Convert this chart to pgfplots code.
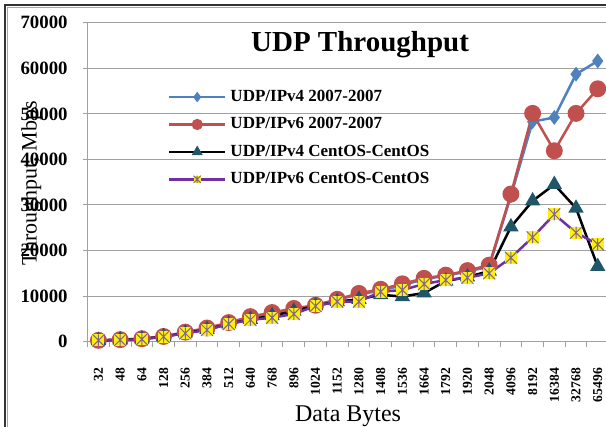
\documentclass[border=0pt]{standalone}
\usepackage{fontspec}
\setmainfont{Liberation Serif}
\usepackage{pgfplots}
\pgfplotsset{compat=1.18}

\definecolor{xlblue}{RGB}{79,129,189}
\definecolor{xlred}{RGB}{192,80,77}
\definecolor{xlteal}{RGB}{31,86,104}
\definecolor{xlpurple}{RGB}{112,48,160}
\definecolor{astgray}{RGB}{128,100,150}
\definecolor{gridgray}{RGB}{160,160,160}

% yellow square with an asterisk on top (Excel style)
\pgfdeclareplotmark{sqast}{%
  \pgfpathrectangle{\pgfqpoint{-\pgfplotmarksize}{-\pgfplotmarksize}}{\pgfqpoint{2\pgfplotmarksize}{2\pgfplotmarksize}}%
  \pgfusepathqfill
  \pgfpathmoveto{\pgfqpoint{-\pgfplotmarksize}{-\pgfplotmarksize}}\pgfpathlineto{\pgfqpoint{\pgfplotmarksize}{\pgfplotmarksize}}%
  \pgfpathmoveto{\pgfqpoint{-\pgfplotmarksize}{\pgfplotmarksize}}\pgfpathlineto{\pgfqpoint{\pgfplotmarksize}{-\pgfplotmarksize}}%
  \pgfpathmoveto{\pgfqpoint{0pt}{-\pgfplotmarksize}}\pgfpathlineto{\pgfqpoint{0pt}{\pgfplotmarksize}}%
  \pgfusepathqstroke
}

\begin{document}
\begin{tikzpicture}
\useasboundingbox (0,0) rectangle (303pt,213.5pt);
\clip (0,0) rectangle (303pt,213.5pt);
% outer frame
\draw[black!80, line width=1pt] (2.5pt,-1pt) -- (2.5pt,211pt) -- (310pt,211pt);
\draw[black!35, line width=0.6pt] (3.9pt,-1pt) -- (3.9pt,209.6pt) -- (310pt,209.6pt);
\begin{axis}[
    at={(43.8pt,42.65pt)}, anchor=south west,
    scale only axis, width=260.5pt, height=159.5pt,
    xmin=-0.5, xmax=23.5, ymin=0, ymax=70000,
    axis x line*=bottom, axis y line*=left,
    axis line style={draw=gridgray, line width=0.5pt},
    ymajorgrids, grid style={draw=gridgray, line width=0.5pt},
    ytick distance=10000,
    scaled y ticks=false,
    /pgf/number format/1000 sep={},
    /pgf/number format/assume math mode=true,
    xtick={0,...,23},
    xticklabels={32,48,64,128,256,384,512,640,768,896,1024,1152,1280,1408,1536,1664,1792,1920,2048,4096,8192,16384,32768,65496},
    minor xtick={-0.5,0.5,...,23.5},
    tick align=outside,
    major tick length=2.5pt, minor tick length=2.5pt,
    major x tick style={draw=none},
    tick style={draw=gridgray, line width=0.5pt},
    yticklabel style={font=\bfseries\fontsize{9.4}{10}\selectfont, inner sep=0pt},
    yticklabel shift=7.3pt,
    xticklabel style={font=\bfseries\fontsize{6.8}{8}\selectfont, rotate=90, anchor=east, inner sep=0pt},
    xticklabel shift=10.5pt,
    title={UDP Throughput},
    title style={at={(axis description cs:0.523,0.943)}, anchor=center, yshift=-8pt,
      font=\bfseries\fontsize{14.5}{16}\selectfont},
    xlabel={Data Bytes},
    xlabel style={at={(axis description cs:0.5,-0.235)}, anchor=center, font=\fontsize{12}{14}\selectfont},
    ylabel={Throughput, Mbps},
    ylabel style={at={(axis description cs:-0.108,0.496)}, anchor=center, font=\fontsize{11}{13}\selectfont},
    legend cell align=left,
    legend style={at={(axis description cs:0.142,0.638)}, anchor=west, draw=none, fill=none,
      font=\bfseries\fontsize{8.5}{10}\selectfont, row sep=0pt,
      nodes={text height=6pt, text depth=1.5pt, inner ysep=3.1pt}},
    legend image code/.code={%
      \draw[mark repeat=2, mark phase=2, every mark/.append style={scale=0.6}]
        plot coordinates {(0pt,0pt) (14pt,0pt) (28pt,0pt)};},
]
\addplot[xlblue, line width=1.25pt, mark=diamond*, mark size=2.7pt,
  mark options={solid, fill=xlblue, draw=xlblue}] coordinates {
  (0,300) (1,450) (2,650) (3,1150) (4,2000) (5,2900) (6,4100) (7,5400)
  (8,6200) (9,7100) (10,8000) (11,9200) (12,10400) (13,11200) (14,12400)
  (15,13700) (16,14500) (17,15400) (18,16500) (19,32000) (20,48300)
  (21,49200) (22,58700) (23,61600)};
\addplot[xlred, line width=1.25pt, mark=*, mark size=3.6pt,
  mark options={solid, fill=xlred, draw=xlred}] coordinates {
  (0,300) (1,450) (2,650) (3,1150) (4,2100) (5,3000) (6,4200) (7,5500)
  (8,6400) (9,7300) (10,8000) (11,9300) (12,10600) (13,11500) (14,12700)
  (15,13900) (16,14600) (17,15600) (18,16800) (19,32400) (20,50100)
  (21,41900) (22,50100) (23,55500)};
\addplot[black, line width=1.25pt, mark=triangle*, mark size=3.2pt,
  mark options={solid, fill=xlteal, draw=xlteal}] coordinates {
  (0,250) (1,400) (2,600) (3,1100) (4,1900) (5,2700) (6,3900) (7,4900)
  (8,5700) (9,6700) (10,7900) (11,8800) (12,9300) (13,10300) (14,9900)
  (15,10700) (16,13300) (17,14200) (18,15500) (19,25200) (20,30900)
  (21,34500) (22,29300) (23,16500)};
\addplot[xlpurple, line width=1.25pt, mark=sqast, mark size=3pt,
  mark options={solid, fill=yellow, draw=astgray, line width=0.5pt}] coordinates {
  (0,290) (1,370) (2,530) (3,1100) (4,1840) (5,2570) (6,3890) (7,4800)
  (8,5270) (9,6080) (10,7830) (11,8780) (12,8780) (13,10970) (14,11340)
  (15,12660) (16,13530) (17,14040) (18,15000) (19,18430) (20,22900)
  (21,27950) (22,23920) (23,21370)};
\legend{UDP/IPv4 2007-2007, UDP/IPv6 2007-2007, UDP/IPv4 CentOS-CentOS, UDP/IPv6 CentOS-CentOS}
\end{axis}
\end{tikzpicture}
\end{document}
